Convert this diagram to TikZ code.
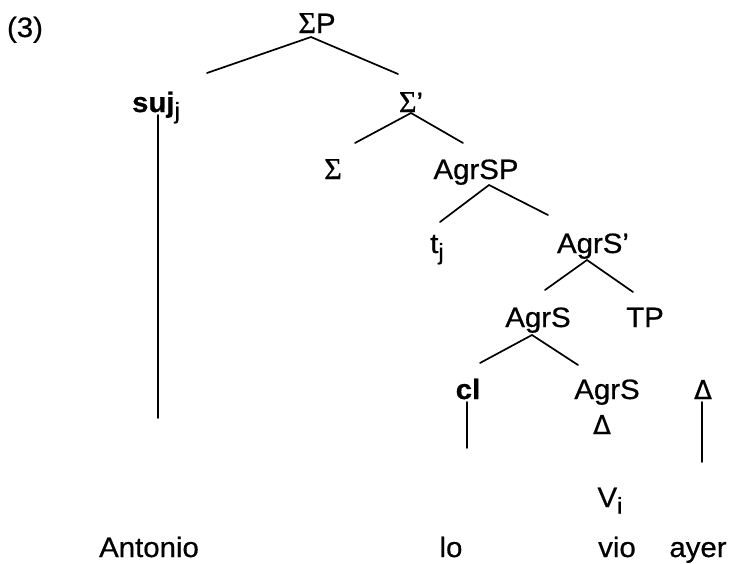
\documentclass[tikz,border=0pt]{standalone}
\usepackage{fontspec}
\setmainfont[FakeStretch=1.05,FakeBold=0.6]{Liberation Sans}
\newfontfamily\sigmafont[Scale=1.08,FakeBold=0.8]{Liberation Serif}
\newfontfamily\deltafont[FakeBold=0.6]{DejaVu Sans}
\newcommand\mysub[1]{\raisebox{-0.24em}{\fontsize{23}{23}\selectfont #1}}
\newcommand\sig{{\sigmafont Σ}}
\tikzset{
  lab/.style={inner sep=0pt, anchor=base, font=\fontsize{28}{30}\selectfont},
  dl/.style={inner sep=0pt, anchor=base, font=\deltafont\fontsize{26}{28}\selectfont},
  br/.style={line width=1.7pt, line cap=round}
}
\begin{document}
\begin{tikzpicture}[x=1pt,y=-1pt]
\useasboundingbox[fill=white] (0,0) rectangle (733,563);
% labels
\node[lab] (n3) at (25,37) {(3)};
\node[lab] (SP) at (317,33) {\sig P};
\node[lab] (suj) at (156,112) {\textbf{suj}\mysub{j}};
\node[lab] (Sbar) at (411,112) {\sig’};
\node[lab] (Sig) at (333,179) {\sig};
\node[lab] (AgrSP) at (476,179) {AgrSP};
\node[lab] (tj) at (437,253) {t\mysub{j}};
\node[lab] (AgrSb) at (593,253) {AgrS’};
\node[lab] (AgrS1) at (538,327) {AgrS};
\node[lab] (TP) at (645,327) {TP};
\node[lab] (cl) at (468,399) {\textbf{cl}};
\node[lab] (AgrS2) at (607,399) {AgrS};
\node[dl] (D1) at (602,434) {Δ};
\node[dl] (D2) at (703,399) {Δ};
\node[lab] (Vi) at (610,507) {V\mysub{i}};
\node[lab] (Antonio) at (149,557) {Antonio};
\node[lab] (lo) at (451,557) {lo};
\node[lab] (vio) at (617,557) {vio};
\node[lab] (ayer) at (698,557) {ayer};
% connector end points
\coordinate (SPa) at (311,37);
\coordinate (SPl) at (207,73);
\coordinate (SPr) at (398,74);
\coordinate (Sba) at (411,113);
\coordinate (Sbl) at (355,143);
\coordinate (Sbr) at (463,143);
\coordinate (APa) at (489,185);
\coordinate (APl) at (440,222);
\coordinate (APr) at (548,215);
\coordinate (Aba) at (587,260);
\coordinate (Abl) at (545,290);
\coordinate (Abr) at (633,292);
\coordinate (A1a) at (532,335);
\coordinate (A1l) at (480,363);
\coordinate (A1r) at (578,365);
\coordinate (sujt) at (158,115);
\coordinate (sujb) at (158,418);
\coordinate (clt) at (467,402);
\coordinate (clb) at (467,448);
\coordinate (D2t) at (702,402);
\coordinate (D2b) at (702,462);
% branches
\draw[br] (SPl) -- (SPa) -- (SPr);
\draw[br] (Sbl) -- (Sba) -- (Sbr);
\draw[br] (APl) -- (APa) -- (APr);
\draw[br] (Abl) -- (Aba) -- (Abr);
\draw[br] (A1l) -- (A1a) -- (A1r);
\draw[br] (sujt) -- (sujb);
\draw[br] (clt) -- (clb);
\draw[br] (D2t) -- (D2b);
\end{tikzpicture}
\end{document}
